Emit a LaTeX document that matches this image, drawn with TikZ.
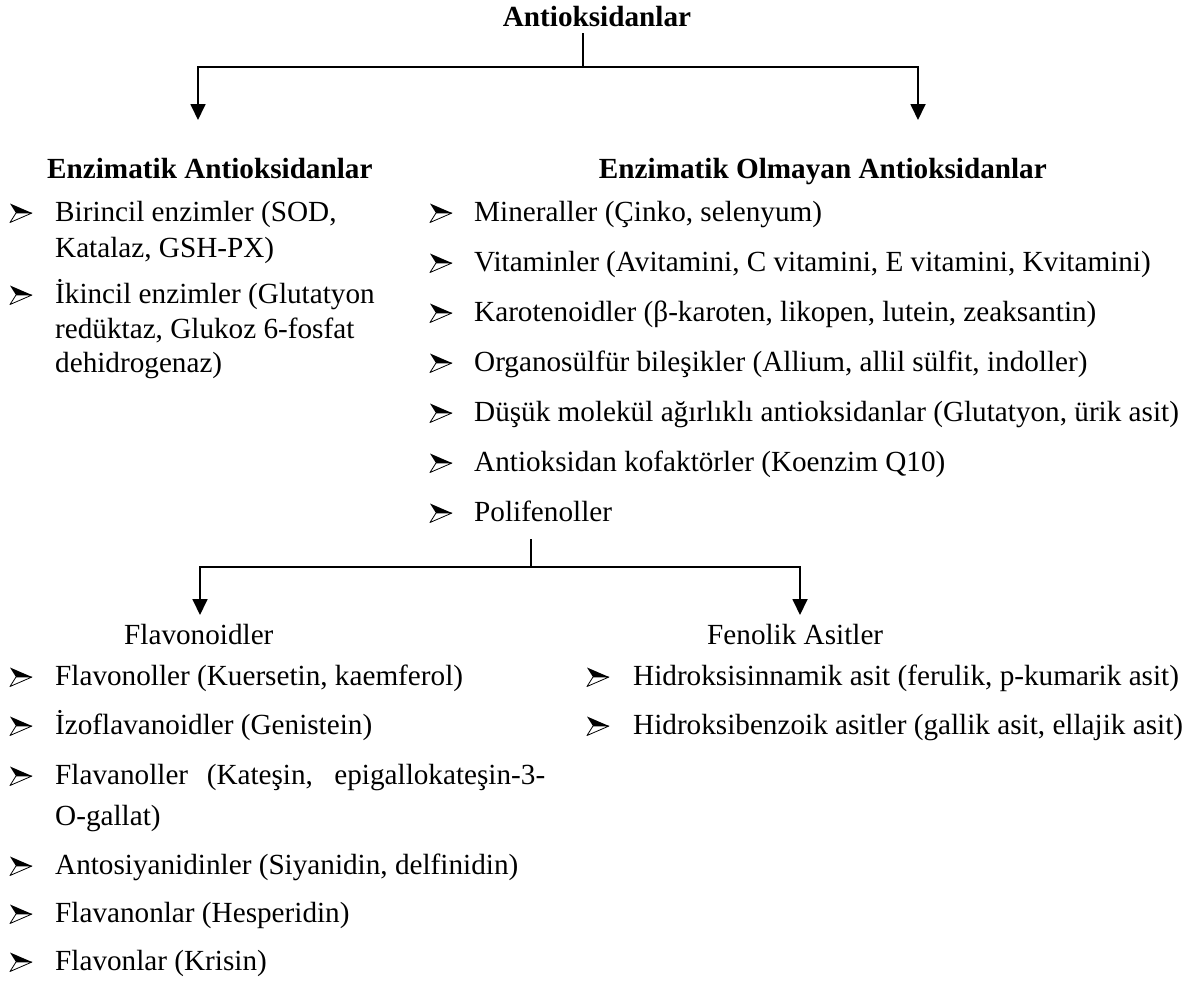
\documentclass[tikz,border=0pt]{standalone}
\usepackage{fontspec}
\setmainfont{Liberation Serif}
\usetikzlibrary{arrows.meta}
\tikzset{
  x=1pt, y=-1pt,
  txt/.style={anchor=base west, inner sep=0pt, font=\fontsize{29.2pt}{35pt}\selectfont},
  hdr/.style={inner sep=0pt, font=\fontsize{29.2pt}{35pt}\selectfont\bfseries},
  conn/.style={line width=1.8pt},
  arr/.style={line width=1.8pt, -{Triangle[length=16pt,width=15pt]}},
  bul/.pic={
    \fill[black] (0,-9.5) -- (22,0) -- (6,0) -- cycle;
    \filldraw[fill=white, draw=black, line width=0.8pt, line join=round] (6,0) -- (22,0) -- (0,9.5) -- cycle;
  }
}
\begin{document}
\begin{tikzpicture}
\useasboundingbox (0,0) rectangle (1195,985);
% title
\node[hdr, anchor=base] (t) at (597,27) {Antioksidanlar};
\coordinate (t0) at (583,33);
\coordinate (j1) at (583,67);
\coordinate (a1) at (198,120);
\coordinate (a2) at (918,120);
\draw[conn] (t0) -- (j1);
\draw[arr] (j1) -| (a1);
\draw[arr] (j1) -| (a2);
% headers
\node[hdr, anchor=base west] (h1) at (47,178) {Enzimatik Antioksidanlar};
\node[hdr, anchor=base east] (h2) at (1047,178) {Enzimatik Olmayan Antioksidanlar};
% left top list
\foreach \y in {221,303} { \pic at (10,\y-8) {bul}; }
\node[txt] (l1a) at (55,221) {Birincil enzimler (SOD,};
\node[txt] (l1b) at (55,257) {Katalaz, GSH-PX)};
\node[txt] (l2a) at (55,303) {İkincil enzimler (Glutatyon};
\node[txt] (l2b) at (55,338) {redüktaz, Glukoz 6-fosfat};
\node[txt] (l2c) at (55,372) {dehidrogenaz)};
% right top list
\foreach \y in {221,271,321,371,421,471,521} { \pic at (430,\y-8) {bul}; }
\node[txt] (r1) at (474,221) {Mineraller (Çinko, selenyum)};
\node[txt] (r2) at (474,271) {Vitaminler (Avitamini, C vitamini, E vitamini, Kvitamini)};
\node[txt] (r3) at (474,321) {Karotenoidler (β-karoten, likopen, lutein, zeaksantin)};
\node[txt] (r4) at (474,371) {Organosülfür bileşikler (Allium, allil sülfit, indoller)};
\node[txt] (r5) at (474,421) {Düşük molekül ağırlıklı antioksidanlar (Glutatyon, ürik asit)};
\node[txt] (r6) at (474,471) {Antioksidan kofaktörler (Koenzim Q10)};
\node[txt] (r7) at (474,521) {Polifenoller};
% polifenol branch
\coordinate (p0) at (531,539);
\coordinate (j2) at (531,567);
\coordinate (b1) at (200,615);
\coordinate (b2) at (800,615);
\draw[conn] (p0) -- (j2);
\draw[arr] (j2) -| (b1);
\draw[arr] (j2) -| (b2);
\node[txt] (fl) at (124,644) {Flavonoidler};
\node[txt] (fa) at (707,644) {Fenolik Asitler};
% lower left list
\foreach \y in {685,734,784,874,922,970} { \pic at (10,\y-8) {bul}; }
\node[txt] (f1) at (55,685) {Flavonoller (Kuersetin, kaemferol)};
\node[txt] (f2) at (55,734) {İzoflavanoidler (Genistein)};
\node[txt] (f3a) at (55,784) {\makebox[490pt][s]{Flavanoller (Kateşin, epigallokateşin-3-}};
\node[txt] (f3b) at (55,825) {O-gallat)};
\node[txt] (f4) at (55,874) {Antosiyanidinler (Siyanidin, delfinidin)};
\node[txt] (f5) at (55,922) {Flavanonlar (Hesperidin)};
\node[txt] (f6) at (55,970) {Flavonlar (Krisin)};
% lower right list
\foreach \y in {685,734} { \pic at (587,\y-8) {bul}; }
\node[txt] (g1) at (633,685) {Hidroksisinnamik asit (ferulik, p-kumarik asit)};
\node[txt] (g2) at (633,734) {Hidroksibenzoik asitler (gallik asit, ellajik asit)};
\end{tikzpicture}
\end{document}
